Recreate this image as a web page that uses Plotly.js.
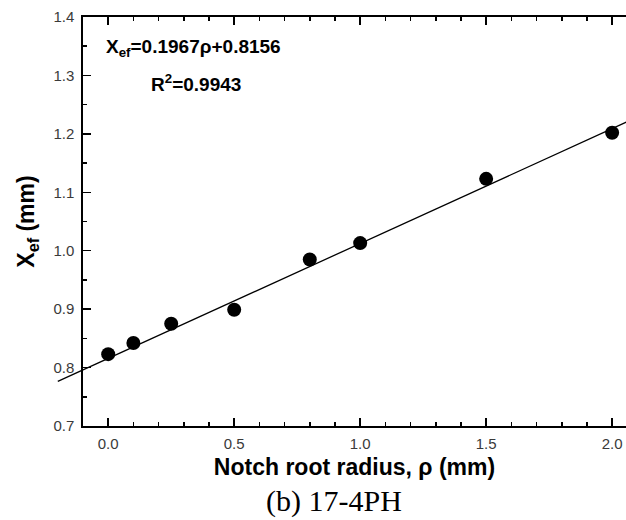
<!DOCTYPE html>
<html>
<head>
<meta charset="utf-8">
<script src="https://cdn.plot.ly/plotly-3.0.1.min.js"></script>
<style>html,body{margin:0;padding:0;background:#fff;overflow:hidden}</style>
</head>
<body>
<div id="chart" style="width:626px;height:520px"></div>
<script>
// Data
const radius = [0.0, 0.1, 0.25, 0.5, 0.8, 1.0, 1.5, 2.0];
const xef = [0.823, 0.842, 0.875, 0.899, 0.985, 1.013, 1.123, 1.202];
const fitSlope = 0.1967;
const fitIntercept = 0.8156;
const fitX = [-0.2, 2.1];
const fitY = fitX.map(v => fitSlope * v + fitIntercept);
const xTickVals = [0.0, 0.5, 1.0, 1.5, 2.0];
const yTickVals = [0.7, 0.8, 0.9, 1.0, 1.1, 1.2, 1.3, 1.4];

const W = 626, H = 520;
const mL = 40, mR = 0, mT = 17, mB = 94;
const plotW = W - mL - mR;
const axisLeftPx = 83;
const d0 = (axisLeftPx - mL) / plotW;
const xRange = [-0.1, 2.055];
const scale = plotW * (1 - d0) / (xRange[1] - xRange[0]);
const x2Range = [xRange[0] - (axisLeftPx - mL) / scale, xRange[1]];
const yRange = [0.7, 1.4];

const tickFont = {family: 'Liberation Sans, Arial, sans-serif', size: 15, color: '#3a3a3a'};
const titleFont = {family: 'Liberation Sans, Arial, sans-serif', size: 23, color: '#000', weight: 'bold'};

const traces = [
  {
    x: fitX, y: fitY, xaxis: 'x2', yaxis: 'y2', mode: 'lines',
    line: {color: '#000', width: 1.3}, hoverinfo: 'skip', showlegend: false
  },
  {
    x: radius, y: xef, mode: 'markers',
    marker: {color: '#000', size: 14}, showlegend: false
  }
];

const layout = {
  width: W, height: H,
  margin: {l: mL, r: mR, t: mT, b: mB},
  paper_bgcolor: '#fff', plot_bgcolor: 'rgba(0,0,0,0)',
  showlegend: false,
  xaxis: {
    domain: [d0, 1], range: xRange, tickvals: xTickVals, tickformat: '.1f',
    ticks: 'inside', ticklen: 8, tickwidth: 1.5, tickcolor: '#000',
    showline: true, linewidth: 1.6, linecolor: '#000', mirror: 'allticks',
    showgrid: false, zeroline: false, tickfont: tickFont, ticklabelstandoff: 3,
    minor: {dtick: 0.1, tick0: 0, ticks: 'inside', ticklen: 4, tickwidth: 1.5, tickcolor: '#000', showgrid: false},
    title: {text: 'Notch root radius, ρ (mm)', font: titleFont, standoff: 8}
  },
  yaxis: {
    range: yRange, tickvals: yTickVals, tickformat: '.1f',
    ticks: 'inside', ticklen: 8, tickwidth: 1.5, tickcolor: '#000',
    showline: true, linewidth: 1.6, linecolor: '#000', mirror: false,
    showgrid: false, zeroline: false, tickfont: tickFont, ticklabelstandoff: 4,
    minor: {dtick: 0.05, ticks: 'inside', ticklen: 4, tickwidth: 1.5, tickcolor: '#000', showgrid: false},
    title: {text: 'X<sub>ef</sub> (mm)', font: titleFont, standoff: 12}
  },
  xaxis2: {
    domain: [0, 1], range: x2Range, anchor: 'y2', visible: false, fixedrange: true
  },
  yaxis2: {
    range: yRange, anchor: 'x2', visible: false, fixedrange: true
  },
  annotations: [
    {
      xref: 'paper', yref: 'paper', x: (104 - mL) / plotW, y: 1 - (48 - mT) / (H - mT - mB),
      xanchor: 'left', yanchor: 'middle', showarrow: false,
      text: '<b>X<sub>ef</sub>=0.1967ρ+0.8156</b>',
      font: {family: 'Liberation Sans, Arial, sans-serif', size: 19, color: '#000'}
    },
    {
      xref: 'paper', yref: 'paper', x: (149 - mL) / plotW, y: 1 - (83 - mT) / (H - mT - mB),
      xanchor: 'left', yanchor: 'middle', showarrow: false,
      text: '<b>R<sup>2</sup>=0.9943</b>',
      font: {family: 'Liberation Sans, Arial, sans-serif', size: 19, color: '#000'}
    },
    {
      xref: 'paper', yref: 'paper', x: (334 - mL) / plotW, y: -(519 - (H - mB)) / (H - mT - mB),
      xanchor: 'center', yanchor: 'bottom', showarrow: false, borderpad: 0,
      text: '(b) 17-4PH',
      font: {family: 'Liberation Serif, Times New Roman, serif', size: 30, color: '#000'}
    }
  ]
};

Plotly.newPlot('chart', traces, layout, {displayModeBar: false, staticPlot: true});
</script>
</body>
</html>
